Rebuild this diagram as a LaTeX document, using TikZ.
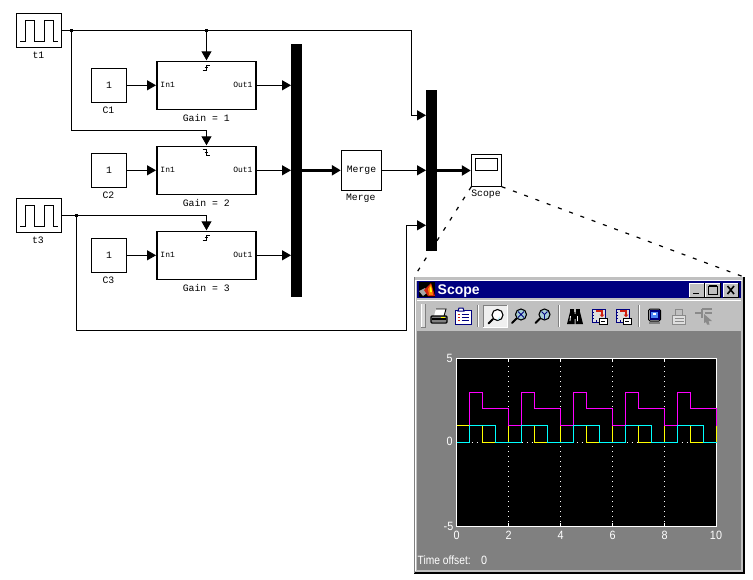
\documentclass[tikz,border=0pt]{standalone}
\usepackage{fontspec}
\setmainfont{Liberation Sans}
\newfontfamily\blkfont{Liberation Mono}
\usetikzlibrary{arrows.meta,calc}
\definecolor{wingray}{HTML}{C0C0C0}
\definecolor{plotgray}{HTML}{808080}
\definecolor{winnavy}{HTML}{000080}
\definecolor{disgray}{HTML}{8A8A8A}
\definecolor{trcyellow}{HTML}{FFFF00}
\definecolor{trcmagenta}{HTML}{FF00FF}
\definecolor{trccyan}{HTML}{00FFFF}
\definecolor{logored}{HTML}{D02010}
\definecolor{logoorange}{HTML}{FF8000}
\definecolor{lenscyan}{HTML}{80E0F0}
\tikzset{
  blk/.style={draw=black,line width=1pt,fill=white,inner sep=0pt,outer sep=0pt,font=\blkfont\fontsize{9.8}{10}\selectfont},
  gainblk/.style={blk,line width=1.8pt,minimum width=98.5pt,minimum height=48pt},
  constblk/.style={blk,minimum width=35.4pt,minimum height=34pt},
  pulseblk/.style={blk,minimum width=45pt,minimum height=34pt},
  barblk/.style={fill=black,inner sep=0pt,outer sep=0pt,minimum width=11pt},
  lab/.style={inner sep=0pt,font=\blkfont\fontsize{9.8}{10}\selectfont},
  portlab/.style={inner sep=0pt,font=\blkfont\fontsize{8}{8}\selectfont},
  sig/.style={line width=1pt,-{Triangle[length=9pt,width=10pt]}},
  sigblk/.style={sig,shorten >=1.2pt},
  fatsig/.style={line width=2.4pt,-{Triangle[length=9pt,width=10pt]}},
  jdot/.style={fill=black,inner sep=0pt,minimum size=3pt},
  zoomline/.style={line width=1.2pt,dash pattern=on 4pt off 8pt},
  axlab/.style={inner sep=0pt,text=white,font=\fontsize{12}{12}\selectfont,xscale=.9,transform shape},
  icoblue/.style={draw=winnavy,line width=1pt},
  griddots/.style={white,line width=1pt,dash pattern=on 1pt off 4pt},
  lens/.style={draw=black,line width=1.1pt,fill=white},
  handle/.style={black,line width=2pt,line cap=round},
}
\begin{document}
\begin{tikzpicture}[x=1pt,y=-1pt]
\useasboundingbox (0,0) rectangle (753,579);
% blocks
\node[pulseblk] (t1) at (39,30.3) {};
\node[lab] (t1lab) at (38.5,55) {t1};
\node[pulseblk] (t3) at (39,215.3) {};
\node[lab] (t3lab) at (38,240.3) {t3};
\draw[line width=1pt,shift={(t1.center)}] (-19,11.5) -- (-13.5,11.5) -- (-13.5,-9.5) -- (-4.5,-9.5) -- (-4.5,11.5) -- (5,11.5) -- (5,-9.5) -- (14,-9.5) -- (14,11.5) -- (19,11.5);
\draw[line width=1pt,shift={(t3.center)}] (-19,11.5) -- (-13.5,11.5) -- (-13.5,-9.5) -- (-4.5,-9.5) -- (-4.5,11.5) -- (5,11.5) -- (5,-9.5) -- (14,-9.5) -- (14,11.5) -- (19,11.5);
\node[constblk] (c1) at (109,85.3) {1};
\node[lab] (c1lab) at (108.5,110.5) {C1};
\node[constblk] (c2) at (109,170.3) {1};
\node[lab] (c2lab) at (108.5,195.5) {C2};
\node[constblk] (c3) at (109,255.3) {1};
\node[lab] (c3lab) at (108.5,280.5) {C3};
\node[gainblk] (g1) at (206.5,85.5) {};
\node[gainblk] (g2) at (206.5,170.5) {};
\node[gainblk] (g3) at (206.5,255.5) {};
\node[lab] (g1lab) at (206.3,118) {Gain = 1};
\node[lab] (g2lab) at (206.3,203) {Gain = 2};
\node[lab] (g3lab) at (206.3,288) {Gain = 3};
\foreach \g in {1,2,3}{
  \node[portlab,anchor=west] (in\g) at ($(g\g.west)+(3,-.2)$) {In1};
  \node[portlab,anchor=east] (out\g) at ($(g\g.east)+(-3,-.2)$) {Out1};
}
% trigger marks
\draw[line width=1pt,shift={(g1.north)}] (-4,9) -- (-.5,9) -- (-.5,3.5) -- (3,3.5) (-2,6) -- (1.5,6);
\draw[line width=1pt,shift={(g2.north)}] (-4,3) -- (-.5,3) -- (-.5,9) -- (3,9) (-2,6) -- (1.5,6);
\draw[line width=1pt,shift={(g3.north)}] (-4,9) -- (-.5,9) -- (-.5,3.5) -- (3,3.5) (-2,6) -- (1.5,6);
\node[barblk,minimum height=253pt] (bar1) at (296.5,170.5) {};
\node[barblk,minimum height=161pt] (bar2) at (431.5,170.5) {};
\node[blk,minimum width=40.4pt,minimum height=40pt] (merge) at (361.5,170.3) {Merge};
\node[lab] (mergelab) at (360.7,198.3) {Merge};
\node[blk,minimum width=30.4pt,minimum height=32.4pt] (scope) at (486.5,170.5) {};
\node[lab] (scopelab) at (486,194.3) {Scope};
\draw[line width=1pt] (475.3,158.3) rectangle (497.7,170.7);
% connectors
\coordinate (j1) at (71.5,30.3);
\coordinate (j2) at (206.5,30.3);
\coordinate (j3) at (76.5,215.3);
\coordinate (c1c) at (411.5,30.3);
\coordinate (c2c) at (411.5,115.3);
\coordinate (c3c) at (71.5,130.3);
\coordinate (c4c) at (206.5,130.3);
\coordinate (c5c) at (206.5,215.3);
\coordinate (c6c) at (76.5,330.3);
\coordinate (c7c) at (406.7,330.3);
\coordinate (c8c) at (406.7,225.3);
\draw[sig] (t1.east) -- (c1c) -- (c2c) -- (c2c -| bar2.west);
\draw[sigblk] (j2) -- (g1.north);
\draw[sigblk] (j1) -- (c3c) -- (c4c) -- (g2.north);
\draw[sigblk] (t3.east) -- (c5c) -- (g3.north);
\draw[sig] (j3) -- (c6c) -- (c7c) -- (c8c) -- (c8c -| bar2.west);
\node[jdot] (d1) at (j1) {};
\node[jdot] (d2) at (j2) {};
\node[jdot] (d3) at (j3) {};
\foreach \g in {1,2,3}{
  \draw[sigblk] (c\g.east) -- (c\g.east -| g\g.west);
  \draw[sig] (g\g.east |- c\g.east) -- (c\g.east -| bar1.west);
}
\draw[fatsig,shorten >=.5pt] (merge.west -| bar1.east) -- (merge.west);
\draw[sig] (merge.east) -- (merge.east -| bar2.west);
\draw[fatsig,shorten >=.5pt] (scope.west -| bar2.east) -- (scope.west);
% window
\node[fill=wingray,inner sep=0pt,outer sep=0pt,minimum width=330pt,minimum height=296pt] (win) at (579,425) {};
\draw[zoomline] (scope.south west) -- (win.north west);
\draw[zoomline] (scope.south east) -- (win.north east);
\draw[white,line width=1pt] (win.south west) ++(1.5,-2) -- ++(0,-291) -- ++(326,0);
\draw[black,line width=1.2pt] (win.north east) -- (win.south east) -- (win.south west);
\draw[plotgray,line width=.8pt] (win.north west) -- (win.south west);
\fill[winnavy] (417,281) rectangle (741,298.3);
\node[anchor=west,inner sep=0pt,text=white,font=\bfseries\fontsize{14}{14}\selectfont] (wintitle) at (437.5,291.5) {Scope};
\draw[white,line width=.8pt] (417,300.5) -- (741,300.5);
% matlab logo
\fill[black] (419,282) rectangle (435,297);
\fill[gray!70] (419,291) -- (425,288) -- (428,292) -- (423,296) -- cycle;
\fill[logored] (424,290) -- (431,283) -- (435,296) -- (428,296) -- cycle;
\fill[logoorange] (428,289) -- (431,284) -- (433,295) -- (429,295) -- cycle;
\fill[trcyellow] (430,288) -- (431,286) -- (432,292) -- (430,292) -- cycle;
% window buttons
\foreach \a/\b in {689/704,705/720,723/738}{
  \fill[wingray] (\a,283) rectangle (\b,297);
  \draw[white,line width=.8pt] (\a,297) -- (\a,283) -- (\b,283);
  \draw[black,line width=.8pt] (\a,297) -- (\b,297) -- (\b,283);
}
\draw[black,line width=1.8pt] (693,293.5) -- (699,293.5);
\draw[black,line width=1pt] (708.5,286) rectangle (717,294);
\draw[black,line width=1.5pt] (708.5,286) -- (717,286);
\draw[black,line width=1.6pt] (727.5,286) -- (734,294) (734,286) -- (727.5,294);
% plot panel
\fill[plotgray] (417,330.7) rectangle (741,569.5);
% toolbar separators and grip
\draw[white,line width=1pt] (421.5,304) -- (421.5,327);
\fill[wingray!60!white] (422,304) rectangle (425,327);
\draw[plotgray,line width=.8pt] (425.5,304) -- (425.5,327) -- (421,327);
\foreach \x in {478.5,559,639}{
  \draw[white,line width=.8pt] (\x,305) -- (\x,327);
  \draw[plotgray,line width=.8pt] (\x-.8,305) -- (\x-.8,327);
}
% printer
\fill[white] (436,309) -- (446,309) -- (444,316) -- (434,316) -- cycle;
\draw[black,line width=.9pt] (436,309) -- (446,309) -- (444,316);
\fill[gray] (431,316) rectangle (447,322);
\draw[black,line width=1.1pt,rounded corners=1pt] (431,316) rectangle (447,323);
\draw[black,line width=1.2pt] (432,319) -- (446,319);
\fill[trcyellow] (441,316.5) rectangle (445,318);
% clipboard
\draw[icoblue,fill=white] (455.5,310.5) rectangle (471,324);
\draw[icoblue,fill=white] (459,308) -- (463,308) -- (464,311) -- (458,311) -- cycle;
\foreach \y in {314,317,320}{
  \draw[logored,line width=1pt] (457.5,\y) -- (460,\y);
  \draw[winnavy,line width=1pt] (461.5,\y) -- (469,\y);
}
% pressed zoom button
\fill[white!75!wingray] (483,305) rectangle (507,327);
\draw[white,line width=1pt] (483,327) -- (507,327) -- (507,305);
\draw[gray,line width=.8pt] (483,327) -- (483,305) -- (507,305);
\draw[handle] (488.5,323.5) -- (493,319);
\draw[lens] (497.5,315) circle (5.5);
\fill[lenscyan] (499.5,316.5) arc (-20:70:3) -- cycle;
% zoom x
\draw[handle] (512,323) -- (516.5,318.5);
\draw[lens,fill=lenscyan!40!wingray] (521,314.5) circle (5.5);
\draw[winnavy,line width=.9pt] (518,311.5) -- (524,317.5) (524,311.5) -- (518,317.5);
% zoom y
\draw[handle] (535.5,323) -- (540,318.5);
\draw[lens,fill=lenscyan!40!wingray] (544.5,314.5) circle (5.5);
\draw[winnavy,line width=.9pt] (541.5,311.5) -- (544.5,314.5) -- (547.5,311.5) (544.5,314.5) -- (544.5,319);
% binoculars
\fill[black] (570,309) rectangle (574,313);
\fill[black] (576,309) rectangle (580,313);
\fill[black] (567,324) -- (570,312) -- (574.5,312) -- (574.5,324) -- cycle;
\fill[black] (583,324) -- (580,312) -- (575.5,312) -- (575.5,324) -- cycle;
\fill[black] (573,314) rectangle (577,319);
\draw[white,line width=.8pt] (570.5,316) -- (570,321) (577.5,316) -- (577.5,321);
% save axes / restore axes
\foreach \xo in {592,616}{
  \begin{scope}[shift={(\xo,309)}]
    \fill[wingray!50!white] (0,0) rectangle (13,13);
    \draw[icoblue] (0,0) rectangle (13,13);
    \draw[winnavy,line width=.8pt] (2,3) -- (0,3) (2,6) -- (0,6) (2,9) -- (0,9) (4,13) -- (4,11) (8,13) -- (8,11);
    \draw[logored,line width=1.2pt] (4,2) -- (10,2) -- (10,6);
    \fill[logored] (7.5,5.5) -- (12.5,5.5) -- (10,8) -- cycle;
    \draw[black,line width=1pt,fill=white] (7,9) rectangle (15,15);
    \draw[black,line width=1pt] (9,12) -- (13,12);
  \end{scope}
}
% floating scope
\draw[black,line width=1pt,fill=gray!60,rounded corners=1.5pt] (648.5,309) rectangle (660.5,321);
\fill[winnavy] (649.5,310) rectangle (659.5,320);
\fill[lenscyan!60!blue] (651,311.5) rectangle (658,318);
\fill[white] (653,313) rectangle (656,315);
\fill[gray] (649,321.5) rectangle (660,324);
% lock (disabled)
\draw[disgray,line width=1pt,fill=wingray!50!white] (672.5,315) rectangle (685.5,324);
\draw[disgray,line width=1pt] (675.5,315) -- (675.5,309.5) -- (682.5,309.5) -- (682.5,315);
\draw[disgray,line width=.8pt] (674.5,318) -- (683.5,318) (674.5,321) -- (683.5,321);
% signal selector (disabled)
\draw[disgray,line width=1.2pt] (695,313) -- (702,313) (702,309) -- (712,309) (702,309) -- (702,318);
\draw[disgray,line width=1.2pt] (705,313) -- (712,313);
\fill[disgray] (704,314) -- (712,321) -- (708.5,321) -- (709.5,324.5) -- (707,324.5) -- (706,322) -- (704,323) -- cycle;
% plot
\fill[black] (456.7,358.7) rectangle (716.7,526.5);
\begin{scope}[shift={(456.7,442.5)},x=26pt,y=16.8pt]
  \foreach \gx in {2,4,6,8}{
    \draw[griddots] (\gx,-5) -- (\gx,5);
    \draw[white,line width=1pt] (\gx,5) -- (\gx,4.8) (\gx,-5) -- (\gx,-4.8);
  }
  \draw[griddots] (0,0) -- (10,0);
  \draw[white,line width=1pt] (0,-5) rectangle (10,5);
  \draw[trcyellow,line width=1pt] (0,1) \foreach \k in {0,2,4,6,8}{ -- (\k+1,1) -- (\k+1,0) -- (\k+2,0) -- (\k+2,1)};
  \foreach \k in {0,2,4,6,8}{
    \draw[trcmagenta,line width=1pt] (\k+.5,1) -- (\k+.5,3) -- (\k+1,3) -- (\k+1,2) -- (\k+2,2) -- (\k+2,1);
  }
  \foreach \k in {2,4,6,8}{
    \draw[trcmagenta,line width=1pt] (\k,1) -- (\k+.5,1);
  }
  \draw[trccyan,line width=1pt] (0,0) \foreach \k in {0,2,4,6,8}{ -- (\k+.5,0) -- (\k+.5,1) -- (\k+1.5,1) -- (\k+1.5,0) -- (\k+2,0)};
\end{scope}
% axis labels
\node[axlab] (y5) at (449.5,358) {5};
\node[axlab] (y0) at (449.5,441.7) {0};
\node[axlab] (ym5) at (448.5,526) {-5};
\node[axlab] (x0) at (456.7,535.7) {0};
\node[axlab] (x2) at (508.7,535.7) {2};
\node[axlab] (x4) at (560.7,535.7) {4};
\node[axlab] (x6) at (612.7,535.7) {6};
\node[axlab] (x8) at (664.7,535.7) {8};
\node[axlab] (x10) at (716,535.7) {10};
\node[axlab,anchor=west,xscale=.95] (toff) at (417.5,560) {Time offset:};
\node[axlab] (toffv) at (484,560) {0};
\end{tikzpicture}
\end{document}
